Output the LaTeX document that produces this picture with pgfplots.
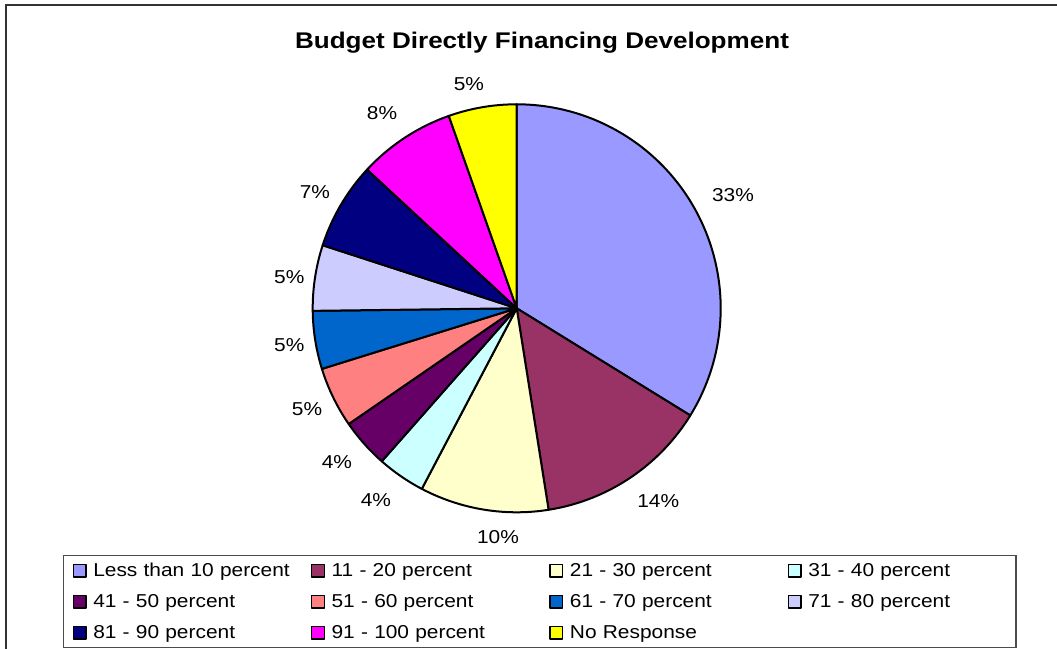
\documentclass[border=0pt]{standalone}
\usepackage{pgfplots}
\pgfplotsset{compat=1.18}
\usepackage{fontspec}
\setmainfont{Liberation Sans}[FakeStretch=1.12]
\newfontfamily\titlefont{Liberation Sans}[FakeStretch=1.15]

\definecolor{cA}{HTML}{9999FF}
\definecolor{cB}{HTML}{993366}
\definecolor{cC}{HTML}{FFFFCC}
\definecolor{cD}{HTML}{CCFFFF}
\definecolor{cE}{HTML}{660066}
\definecolor{cF}{HTML}{FF8080}
\definecolor{cG}{HTML}{0066CC}
\definecolor{cH}{HTML}{CCCCFF}
\definecolor{cI}{HTML}{000080}
\definecolor{cJ}{HTML}{FF00FF}
\definecolor{cK}{HTML}{FFFF00}

% shares of the pie (percent)
\def\vA{33.8}
\def\vB{13.7}
\def\vC{10.2}
\def\vD{3.8}
\def\vE{3.9}
\def\vF{4.8}
\def\vG{4.6}
\def\vH{5.2}
\def\vI{6.9}
\def\vJ{7.7}
\def\vK{5.4}

\begin{document}
\begin{tikzpicture}[x=0.75pt,y=0.75pt]
\useasboundingbox (0,0) rectangle (1057,649);
\pgfmathsetmacro\aO{90}
\pgfmathsetmacro\aA{\aO-3.6*\vA}
\pgfmathsetmacro\aB{\aA-3.6*\vB}
\pgfmathsetmacro\aC{\aB-3.6*\vC}
\pgfmathsetmacro\aD{\aC-3.6*\vD}
\pgfmathsetmacro\aE{\aD-3.6*\vE}
\pgfmathsetmacro\aF{\aE-3.6*\vF}
\pgfmathsetmacro\aG{\aF-3.6*\vG}
\pgfmathsetmacro\aH{\aG-3.6*\vH}
\pgfmathsetmacro\aI{\aH-3.6*\vI}
\pgfmathsetmacro\aJ{\aI-3.6*\vJ}
\pgfmathsetmacro\aK{\aJ-3.6*\vK}

\draw[line width=1.5pt, black!80] (6,-20) -- (6,644.3) -- (1100,644.3);

\node[anchor=base, font=\titlefont\bfseries\fontsize{17}{20}\selectfont] at (542,600.7) {Budget Directly Financing Development};

\begin{axis}[
  hide axis, scale only axis,
  width=397.8pt, height=397.8pt,
  xmin=-1.3, xmax=1.3, ymin=-1.3, ymax=1.3,
  anchor=center, at={(387.525pt,255.525pt)},
  clip=false,
  legend columns=4,
  legend cell align=left,
  legend image code/.code={\draw[#1, line width=1pt] (0pt,-4.75pt) rectangle (9.5pt,4.75pt);},
  legend style={
    at={(axis cs:-2.224,-1.2093)}, anchor=north west,
    draw=black!70, line width=0.9pt,
    inner xsep=6.75pt, inner ysep=1.5pt,
    row sep=3.75pt,
    font=\fontsize{14}{16}\selectfont,
    nodes={inner xsep=0pt, inner ysep=3pt, text width=149pt, align=left, text height=11.5pt, text depth=2pt},
    /tikz/every odd column/.append style={column sep=5pt},
    /tikz/every even column/.append style={column sep=14.25pt},
  },
  every axis plot/.append style={draw=black, line width=1.5pt, line join=round, samples=120},
]
\addplot[fill=cA, domain=\aA:\aO] ({cos(x)},{sin(x)}) -- (axis cs:0,0) -- cycle;
\addlegendentry{Less than 10 percent}
\addplot[fill=cB, domain=\aB:\aA] ({cos(x)},{sin(x)}) -- (axis cs:0,0) -- cycle;
\addlegendentry{11 - 20 percent}
\addplot[fill=cC, domain=\aC:\aB] ({cos(x)},{sin(x)}) -- (axis cs:0,0) -- cycle;
\addlegendentry{21 - 30 percent}
\addplot[fill=cD, domain=\aD:\aC] ({cos(x)},{sin(x)}) -- (axis cs:0,0) -- cycle;
\addlegendentry{31 - 40 percent}
\addplot[fill=cE, domain=\aE:\aD] ({cos(x)},{sin(x)}) -- (axis cs:0,0) -- cycle;
\addlegendentry{41 - 50 percent}
\addplot[fill=cF, domain=\aF:\aE] ({cos(x)},{sin(x)}) -- (axis cs:0,0) -- cycle;
\addlegendentry{51 - 60 percent}
\addplot[fill=cG, domain=\aG:\aF] ({cos(x)},{sin(x)}) -- (axis cs:0,0) -- cycle;
\addlegendentry{61 - 70 percent}
\addplot[fill=cH, domain=\aH:\aG] ({cos(x)},{sin(x)}) -- (axis cs:0,0) -- cycle;
\addlegendentry{71 - 80 percent}
\addplot[fill=cI, domain=\aI:\aH] ({cos(x)},{sin(x)}) -- (axis cs:0,0) -- cycle;
\addlegendentry{81 - 90 percent}
\addplot[fill=cJ, domain=\aJ:\aI] ({cos(x)},{sin(x)}) -- (axis cs:0,0) -- cycle;
\addlegendentry{91 - 100 percent}
\addplot[fill=cK, domain=\aK:\aJ] ({cos(x)},{sin(x)}) -- (axis cs:0,0) -- cycle;
\addlegendentry{No Response}

\begin{scope}[every node/.style={font=\fontsize{14}{16}\selectfont, anchor=center, inner sep=0pt}]
\node at (axis cs:1.060,0.555) {33\%};
\node at (axis cs:0.694,-0.944) {14\%};
\node at (axis cs:-0.092,-1.121) {10\%};
\node at (axis cs:-0.690,-0.940) {4\%};
\node at (axis cs:-0.881,-0.753) {4\%};
\node at (axis cs:-1.028,-0.494) {5\%};
\node at (axis cs:-1.115,-0.180) {5\%};
\node at (axis cs:-1.115,0.153) {5\%};
\node at (axis cs:-0.989,0.570) {7\%};
\node at (axis cs:-0.660,0.957) {8\%};
\node at (axis cs:-0.234,1.099) {5\%};
\end{scope}
\end{axis}
\end{tikzpicture}
\end{document}
